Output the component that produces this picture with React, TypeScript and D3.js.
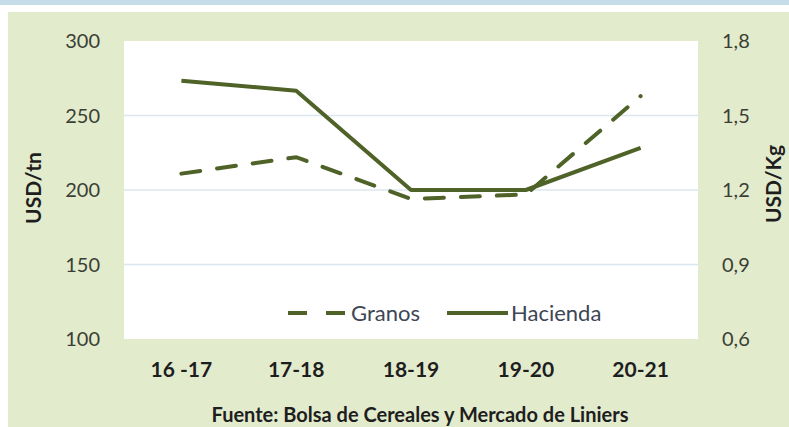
import React, { useEffect, useRef } from "react";
import * as d3 from "d3";

const width = 789;
const height = 427;
const plotLeft = 124;
const plotRight = 698;
const plotTop = 41;
const plotBottom = 339;

const campaigns = ["16 -17", "17-18", "18-19", "19-20", "20-21"];
const granos = [211, 222, 194, 197, 263]; // USD/tn, eje izquierdo
const hacienda = [1.64, 1.6, 1.2, 1.2, 1.37]; // USD/Kg, eje derecho
const leftTicks = [100, 150, 200, 250, 300];
const rightTicks = [0.6, 0.9, 1.2, 1.5, 1.8];

const green = "#4f6228";
const font = "Lato, 'Open Sans', sans-serif";

export default function App() {
  const ref = useRef<SVGSVGElement>(null);

  useEffect(() => {
    const svg = d3.select(ref.current);
    svg.selectAll("*").remove();

    // fondo
    svg.append("rect").attr("width", width).attr("height", height).attr("fill", "#ffffff");
    svg.append("rect").attr("width", width).attr("height", 5).attr("fill", "#c6dce9");
    svg.append("rect").attr("x", 8).attr("y", 12).attr("width", width - 8).attr("height", height - 12).attr("fill", "#e3ebcd");
    svg
      .append("rect")
      .attr("x", plotLeft)
      .attr("y", plotTop)
      .attr("width", plotRight - plotLeft)
      .attr("height", plotBottom - plotTop)
      .attr("fill", "#ffffff");

    const x = d3.scalePoint<string>().domain(campaigns).range([plotLeft, plotRight]).padding(0.5);
    const yL = d3.scaleLinear().domain([100, 300]).range([plotBottom, plotTop]);
    const yR = d3.scaleLinear().domain([0.6, 1.8]).range([plotBottom, plotTop]);

    // grilla
    svg
      .append("g")
      .selectAll("line")
      .data(leftTicks.slice(1, -1))
      .join("line")
      .attr("x1", plotLeft)
      .attr("x2", plotRight)
      .attr("y1", d => yL(d))
      .attr("y2", d => yL(d))
      .attr("stroke", "#dce6ee")
      .attr("stroke-width", 1.5);

    // ejes
    svg
      .append("g")
      .attr("font-family", font)
      .attr("font-size", 20)
      .attr("fill", "#3a3f35")
      .selectAll("text")
      .data(leftTicks)
      .join("text")
      .attr("x", 100)
      .attr("y", d => yL(d))
      .attr("dy", "0.35em")
      .attr("text-anchor", "end")
      .text(d => d);

    svg
      .append("g")
      .attr("font-family", font)
      .attr("font-size", 20)
      .attr("fill", "#3a3f35")
      .selectAll("text")
      .data(rightTicks)
      .join("text")
      .attr("x", 722)
      .attr("y", d => yR(d))
      .attr("dy", "0.35em")
      .attr("text-anchor", "start")
      .text(d => d3.format(".1f")(d).replace(".", ","));

    svg
      .append("g")
      .attr("font-family", font)
      .attr("font-size", 21)
      .attr("font-weight", "bold")
      .attr("fill", "#1e1e1e")
      .selectAll("text")
      .data(campaigns)
      .join("text")
      .attr("x", d => x(d)!)
      .attr("y", 370)
      .attr("dy", "0.35em")
      .attr("text-anchor", "middle")
      .text(d => d);

    svg
      .append("text")
      .attr("transform", "translate(34,188) rotate(-90)")
      .attr("text-anchor", "middle")
      .attr("dy", "0.35em")
      .attr("font-family", font)
      .attr("font-size", 21)
      .attr("font-weight", "bold")
      .attr("fill", "#1e1e1e")
      .text("USD/tn");

    svg
      .append("text")
      .attr("transform", "translate(774,184) rotate(-90)")
      .attr("text-anchor", "middle")
      .attr("dy", "0.35em")
      .attr("font-family", font)
      .attr("font-size", 21)
      .attr("font-weight", "bold")
      .attr("fill", "#1e1e1e")
      .text("USD/Kg");

    svg
      .append("text")
      .attr("x", 420)
      .attr("y", 415)
      .attr("dy", "0.35em")
      .attr("text-anchor", "middle")
      .attr("font-family", font)
      .attr("font-size", 20)
      .attr("font-weight", "bold")
      .attr("fill", "#1e1e1e")
      .text("Fuente: Bolsa de Cereales y Mercado de Liniers");

    // series
    const lineL = d3
      .line<number>()
      .x((_, i) => x(campaigns[i])!)
      .y(d => yL(d));
    const lineR = d3
      .line<number>()
      .x((_, i) => x(campaigns[i])!)
      .y(d => yR(d));

    svg
      .append("path")
      .datum(hacienda)
      .attr("fill", "none")
      .attr("stroke", green)
      .attr("stroke-width", 4)
      .attr("stroke-linejoin", "round")
      .attr("d", lineR);

    svg
      .append("path")
      .datum(granos)
      .attr("fill", "none")
      .attr("stroke", green)
      .attr("stroke-width", 4)
      .attr("stroke-dasharray", "19,17")
      .attr("stroke-linecap", "round")
      .attr("d", lineL);

    // leyenda
    const legend = svg.append("g").attr("font-family", font).attr("font-size", 22).attr("fill", "#3d4654");
    legend
      .append("line")
      .attr("x1", 288)
      .attr("x2", 346)
      .attr("y1", 313)
      .attr("y2", 313)
      .attr("stroke", green)
      .attr("stroke-width", 4)
      .attr("stroke-dasharray", "19,19");
    legend.append("text").attr("x", 351).attr("y", 313).attr("dy", "0.35em").text("Granos");
    legend
      .append("line")
      .attr("x1", 447)
      .attr("x2", 508)
      .attr("y1", 313)
      .attr("y2", 313)
      .attr("stroke", green)
      .attr("stroke-width", 4);
    legend.append("text").attr("x", 511).attr("y", 313).attr("dy", "0.35em").text("Hacienda");
  }, []);

  return (
    <svg
      ref={ref}
      width={width}
      height={height}
      viewBox={`0 0 ${width} ${height}`}
      style={{ position: "absolute", left: 0, top: 0 }}
    ></svg>
  );
}
